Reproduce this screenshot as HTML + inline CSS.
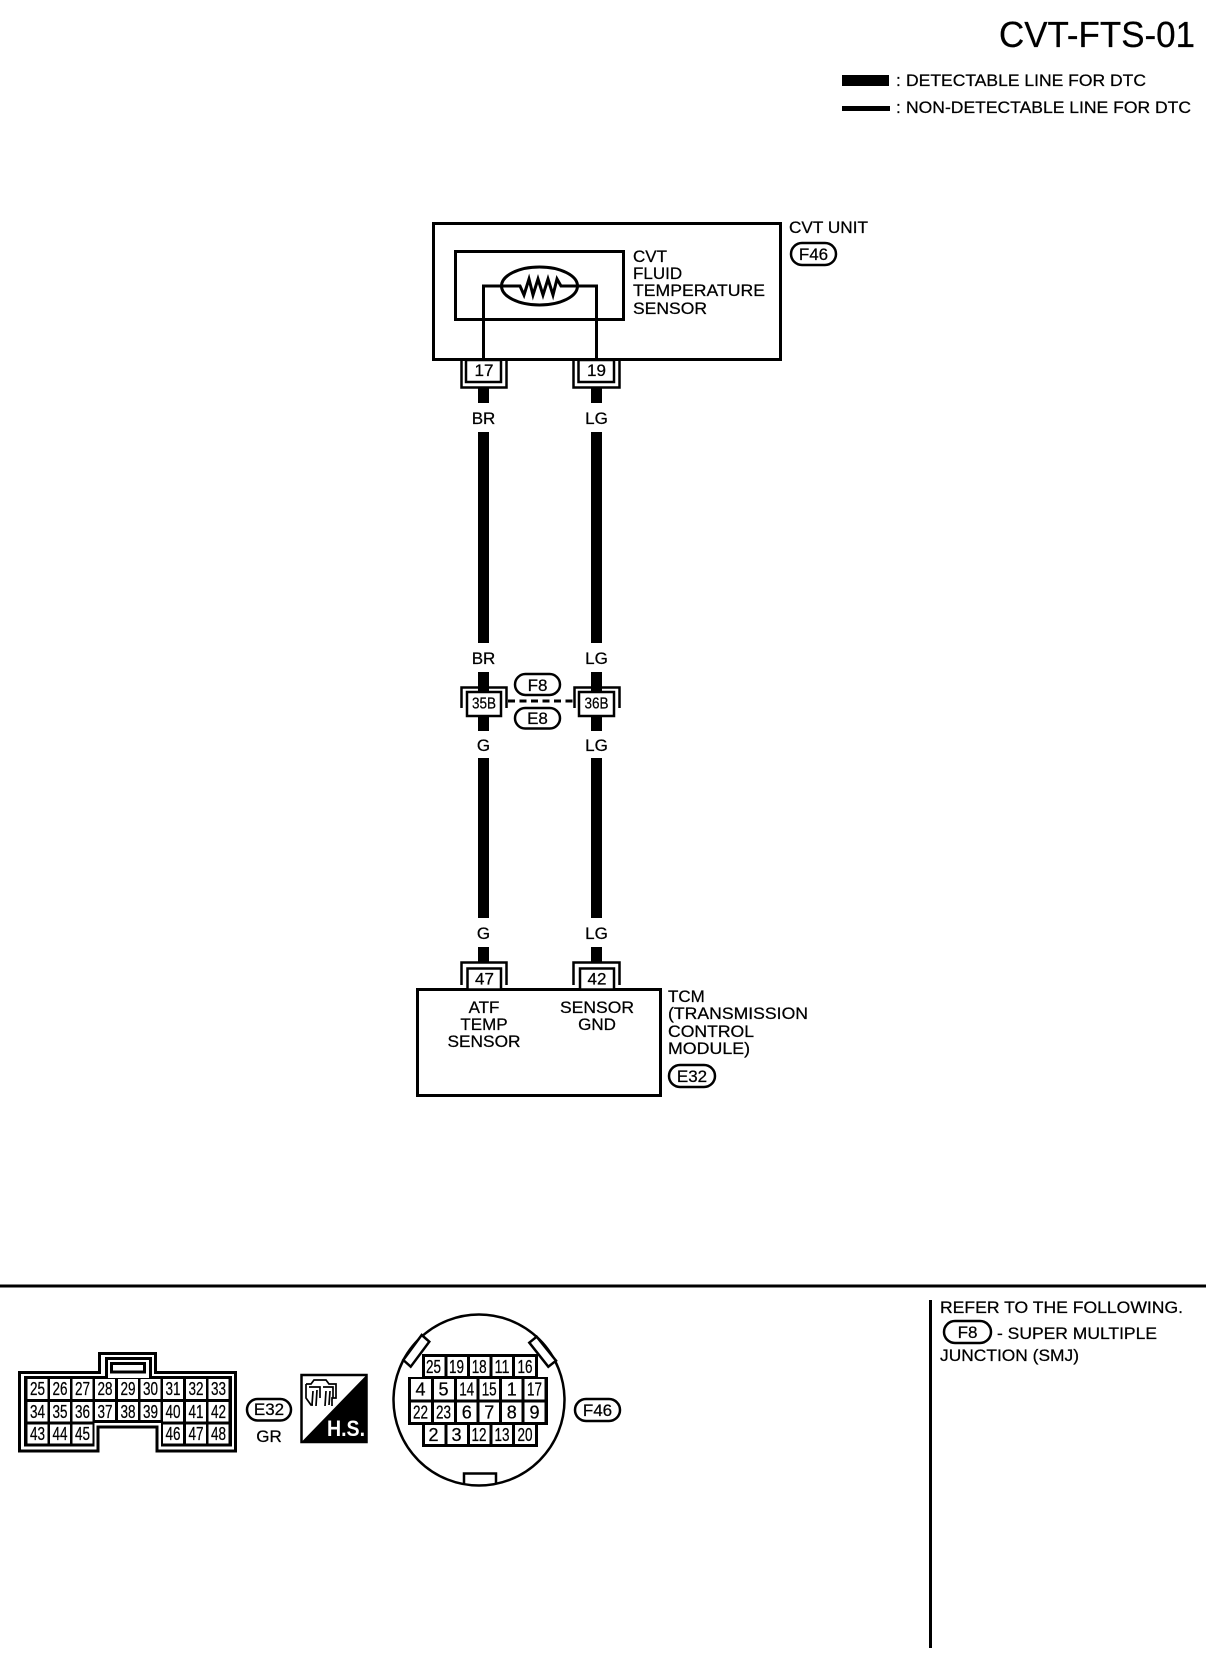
<!DOCTYPE html>
<html><head><meta charset="utf-8"><style>
html,body{margin:0;padding:0;background:#fff;width:1216px;height:1660px;overflow:hidden}
svg{display:block}
text{font-family:"Liberation Sans",sans-serif;fill:#000;font-size:17px;stroke:#000;stroke-width:.25}
.m{text-anchor:middle}
.c{font-size:18px;text-anchor:middle}
.l{fill:none;stroke:#000;stroke-width:3}
.t{fill:none;stroke:#000;stroke-width:2.5}
.o{fill:#fff;stroke:#000;stroke-width:2.5}
</style></head><body>
<svg width="1216" height="1660" viewBox="0 0 1216 1660" xmlns="http://www.w3.org/2000/svg">
<!-- header -->
<text x="999" y="47" style="font-size:36px" textLength="196" lengthAdjust="spacingAndGlyphs">CVT-FTS-01</text>
<rect x="842" y="75" width="47" height="11"/>
<rect x="842" y="106" width="48" height="5"/>
<text x="896" y="86">:</text>
<text x="906" y="86" textLength="240" lengthAdjust="spacingAndGlyphs">DETECTABLE LINE FOR DTC</text>
<text x="896" y="113">:</text>
<text x="906" y="113" textLength="285" lengthAdjust="spacingAndGlyphs">NON-DETECTABLE LINE FOR DTC</text>

<!-- CVT unit -->
<rect class="l" x="433.5" y="223.5" width="347" height="136"/>
<rect class="l" x="455.5" y="251.5" width="168" height="68"/>
<ellipse class="l" cx="539.5" cy="286" rx="38" ry="19" fill="none"/>
<path class="l" d="M483.5,360 V286 H520 L524,295 L529,279 L533,295 L538,279 L543,295 L548,279 L553,295 L557,279 L561,286 H596.5 V360"/>
<text x="633" y="262">CVT</text>
<text x="633" y="279">FLUID</text>
<text x="633" y="296" textLength="132" lengthAdjust="spacingAndGlyphs">TEMPERATURE</text>
<text x="633" y="314" textLength="74" lengthAdjust="spacingAndGlyphs">SENSOR</text>
<text x="789" y="233" textLength="79" lengthAdjust="spacingAndGlyphs">CVT UNIT</text>
<rect class="o" x="791" y="243" width="45" height="22" rx="11"/>
<text class="m" x="813.5" y="260">F46</text>

<!-- top connectors -->
<path class="t" d="M461.5,360 V387.5 H506.5 V360 M573.5,360 V387.5 H619.5 V360"/>
<rect class="t" x="466" y="360" width="35" height="22"/>
<rect class="t" x="578.5" y="360" width="35.5" height="22"/>
<text class="m" x="484" y="376">17</text>
<text class="m" x="596.5" y="376">19</text>
<rect x="478" y="388" width="11" height="15"/>
<rect x="591" y="388" width="11" height="15"/>
<text class="m" x="483.5" y="424">BR</text>
<text class="m" x="596.5" y="424">LG</text>
<rect x="478" y="432" width="11" height="211"/>
<rect x="591" y="432" width="11" height="211"/>
<text class="m" x="483.5" y="664">BR</text>
<text class="m" x="596.5" y="664">LG</text>

<!-- mid connectors -->
<rect x="478" y="672" width="11" height="59"/>
<rect x="591" y="672" width="11" height="59"/>
<path class="t" d="M461.5,708 V687.5 H506.5 V708 M574.5,708 V687.5 H619.5 V708"/>
<rect class="o" x="467" y="692" width="34" height="24"/>
<rect class="o" x="579" y="692" width="35" height="24"/>
<text class="m" x="484" y="708.5" style="font-size:16px" textLength="24" lengthAdjust="spacingAndGlyphs">35B</text>
<text class="m" x="596.5" y="708.5" style="font-size:16px" textLength="24" lengthAdjust="spacingAndGlyphs">36B</text>
<path d="M508,701 H574" stroke="#000" stroke-width="3" stroke-dasharray="7 4.5" fill="none"/>
<rect class="o" x="515" y="674" width="45" height="21" rx="10.5"/>
<text class="m" x="537.5" y="691">F8</text>
<rect class="o" x="515" y="708" width="45" height="20.5" rx="10.2"/>
<text class="m" x="537.5" y="724">E8</text>
<text class="m" x="483.5" y="751">G</text>
<text class="m" x="596.5" y="751">LG</text>
<rect x="478" y="758" width="11" height="160"/>
<rect x="591" y="758" width="11" height="160"/>
<text class="m" x="483.5" y="939">G</text>
<text class="m" x="596.5" y="939">LG</text>
<rect x="478" y="947" width="11" height="15"/>
<rect x="591" y="947" width="11" height="15"/>

<!-- TCM -->
<rect class="l" x="417.5" y="989.5" width="243" height="106"/>
<path class="t" d="M461.5,985 V962.5 H506.5 V985 M573.5,985 V962.5 H619.5 V985"/>
<rect class="o" x="467.5" y="968.5" width="33.5" height="21"/>
<rect class="o" x="580" y="968.5" width="34" height="21"/>
<text class="m" x="484.5" y="984.5">47</text>
<text class="m" x="597" y="984.5">42</text>
<text class="m" x="484" y="1013">ATF</text>
<text class="m" x="484" y="1030">TEMP</text>
<text class="m" x="484" y="1047" textLength="73" lengthAdjust="spacingAndGlyphs">SENSOR</text>
<text class="m" x="597" y="1013" textLength="74" lengthAdjust="spacingAndGlyphs">SENSOR</text>
<text class="m" x="597" y="1030">GND</text>
<text x="668" y="1002">TCM</text>
<text x="668" y="1019" textLength="140" lengthAdjust="spacingAndGlyphs">(TRANSMISSION</text>
<text x="668" y="1037" textLength="86" lengthAdjust="spacingAndGlyphs">CONTROL</text>
<text x="668" y="1054" textLength="82" lengthAdjust="spacingAndGlyphs">MODULE)</text>
<rect class="o" x="669" y="1065" width="46" height="22" rx="11"/>
<text class="m" x="692" y="1082">E32</text>

<!-- dividers -->
<rect x="0" y="1284.5" width="1206" height="3"/>
<rect x="929" y="1300" width="3" height="348"/>
<text x="940" y="1313" textLength="243" lengthAdjust="spacingAndGlyphs">REFER TO THE FOLLOWING.</text>
<rect class="o" x="944" y="1321" width="47" height="22" rx="11"/>
<text class="m" x="967.5" y="1338">F8</text>
<text x="997" y="1339" textLength="160" lengthAdjust="spacingAndGlyphs">- SUPER MULTIPLE</text>
<text x="940" y="1361" textLength="139" lengthAdjust="spacingAndGlyphs">JUNCTION (SMJ)</text>

<!-- E32 connector -->
<path class="l" d="M19.5,1372.5 H99.5 V1353.5 H155.5 V1372.5 H235.5 V1451 H157 V1427 H98 V1451 H19.5 Z"/>
<path class="l" d="M25.5,1377.5 H106.5 V1358.5 H150.5 V1377.5 H230.5 V1445 H162.5 V1421.5 H93 V1445 H25.5 Z"/>
<rect class="l" x="111.5" y="1363.5" width="33" height="8.5"/>
<path fill="#000" d="M26,1378 H230 V1445 H162 V1422 H94 V1445 H26 Z"/>
<g fill="#fff">
<rect x="27.5" y="1379" width="20" height="20"/><rect x="50" y="1379" width="20" height="20"/><rect x="72.5" y="1379" width="20" height="20"/><rect x="95" y="1379" width="20" height="20"/><rect x="118" y="1379" width="20" height="20"/><rect x="140.5" y="1379" width="20" height="20"/><rect x="163" y="1379" width="20" height="20"/><rect x="186" y="1379" width="20" height="20"/><rect x="208.5" y="1379" width="20" height="20"/>
<rect x="27.5" y="1402" width="20" height="19.5"/><rect x="50" y="1402" width="20" height="19.5"/><rect x="72.5" y="1402" width="20" height="19.5"/><rect x="95" y="1402" width="20" height="18"/><rect x="118" y="1402" width="20" height="18"/><rect x="140.5" y="1402" width="20" height="18"/><rect x="163" y="1402" width="20" height="19.5"/><rect x="186" y="1402" width="20" height="19.5"/><rect x="208.5" y="1402" width="20" height="19.5"/>
<rect x="27.5" y="1424.5" width="20" height="19"/><rect x="50" y="1424.5" width="20" height="19"/><rect x="72.5" y="1424.5" width="20" height="19"/><rect x="163" y="1424.5" width="20" height="19"/><rect x="186" y="1424.5" width="20" height="19"/><rect x="208.5" y="1424.5" width="20" height="19"/>
</g>
<g>
<text class="c" x="37.5" y="1395" textLength="15" lengthAdjust="spacingAndGlyphs">25</text><text class="c" x="60" y="1395" textLength="15" lengthAdjust="spacingAndGlyphs">26</text><text class="c" x="82.5" y="1395" textLength="15" lengthAdjust="spacingAndGlyphs">27</text><text class="c" x="105" y="1395" textLength="15" lengthAdjust="spacingAndGlyphs">28</text><text class="c" x="128" y="1395" textLength="15" lengthAdjust="spacingAndGlyphs">29</text><text class="c" x="150.5" y="1395" textLength="15" lengthAdjust="spacingAndGlyphs">30</text><text class="c" x="173" y="1395" textLength="15" lengthAdjust="spacingAndGlyphs">31</text><text class="c" x="196" y="1395" textLength="15" lengthAdjust="spacingAndGlyphs">32</text><text class="c" x="218.5" y="1395" textLength="15" lengthAdjust="spacingAndGlyphs">33</text>
<text class="c" x="37.5" y="1418" textLength="15" lengthAdjust="spacingAndGlyphs">34</text><text class="c" x="60" y="1418" textLength="15" lengthAdjust="spacingAndGlyphs">35</text><text class="c" x="82.5" y="1418" textLength="15" lengthAdjust="spacingAndGlyphs">36</text><text class="c" x="105" y="1418" textLength="15" lengthAdjust="spacingAndGlyphs">37</text><text class="c" x="128" y="1418" textLength="15" lengthAdjust="spacingAndGlyphs">38</text><text class="c" x="150.5" y="1418" textLength="15" lengthAdjust="spacingAndGlyphs">39</text><text class="c" x="173" y="1418" textLength="15" lengthAdjust="spacingAndGlyphs">40</text><text class="c" x="196" y="1418" textLength="15" lengthAdjust="spacingAndGlyphs">41</text><text class="c" x="218.5" y="1418" textLength="15" lengthAdjust="spacingAndGlyphs">42</text>
<text class="c" x="37.5" y="1440" textLength="15" lengthAdjust="spacingAndGlyphs">43</text><text class="c" x="60" y="1440" textLength="15" lengthAdjust="spacingAndGlyphs">44</text><text class="c" x="82.5" y="1440" textLength="15" lengthAdjust="spacingAndGlyphs">45</text><text class="c" x="173" y="1440" textLength="15" lengthAdjust="spacingAndGlyphs">46</text><text class="c" x="196" y="1440" textLength="15" lengthAdjust="spacingAndGlyphs">47</text><text class="c" x="218.5" y="1440" textLength="15" lengthAdjust="spacingAndGlyphs">48</text>
</g>
<rect class="o" x="247" y="1399" width="44" height="21.5" rx="10.7"/>
<text class="m" x="269" y="1415">E32</text>
<text class="m" x="269" y="1442">GR</text>

<!-- H.S. -->
<rect x="301.5" y="1375" width="65" height="67" fill="#fff" stroke="#000" stroke-width="2.5"/>
<path d="M366.5,1375 V1442 H301.5 Z"/>
<path d="M306,1384 H311 L314,1380 H326 L329,1384 H336 V1398 H332 V1406 M306,1384 V1398 L311,1405 H313 M309,1387 H320 V1398 M323,1387 H333 V1398 M313,1391 L312,1405 M317,1390 L316,1406 M326,1391 L325,1406 M330,1391 L329,1405" fill="none" stroke="#000" stroke-width="1.7"/>
<text x="327" y="1436" style="font-size:22px;font-weight:bold;fill:#fff;stroke:none" textLength="38" lengthAdjust="spacingAndGlyphs">H.S.</text>

<!-- F46 connector -->
<circle class="t" cx="479" cy="1400" r="85.5" fill="#fff"/>
<polygon points="421.7,1335 429.3,1341.7 410.7,1366.7 403.3,1360" fill="#fff" stroke="#000" stroke-width="2.5"/>
<polygon points="536.7,1336.7 529.3,1342.7 548.3,1366.7 556,1360.7" fill="#fff" stroke="#000" stroke-width="2.5"/>
<path d="M464,1485 V1473.5 H496 V1484" fill="none" stroke="#000" stroke-width="2.5"/>
<path fill="#000" d="M422,1354 H538 V1377 H548 V1425 H538 V1447 H422 V1425 H408 V1377 H422 Z"/>
<g fill="#fff">
<rect x="425" y="1357" width="19.5" height="19"/><rect x="447.5" y="1357" width="19.5" height="19"/><rect x="470" y="1357" width="19.5" height="19"/><rect x="492.5" y="1357" width="19.5" height="19"/><rect x="515" y="1357" width="20" height="19"/>
<rect x="411" y="1379" width="20" height="20.5"/><rect x="434" y="1379" width="20" height="20.5"/><rect x="457" y="1379" width="19.5" height="20.5"/><rect x="479.5" y="1379" width="19.5" height="20.5"/><rect x="502" y="1379" width="19.5" height="20.5"/><rect x="524.5" y="1379" width="20" height="20.5"/>
<rect x="411" y="1402.5" width="20" height="19.5"/><rect x="434" y="1402.5" width="20" height="19.5"/><rect x="457" y="1402.5" width="19.5" height="19.5"/><rect x="479.5" y="1402.5" width="19.5" height="19.5"/><rect x="502" y="1402.5" width="19.5" height="19.5"/><rect x="524.5" y="1402.5" width="20" height="19.5"/>
<rect x="425" y="1425" width="19.5" height="19"/><rect x="447.5" y="1425" width="19.5" height="19"/><rect x="470" y="1425" width="19.5" height="19"/><rect x="492.5" y="1425" width="19.5" height="19"/><rect x="515" y="1425" width="20" height="19"/>
</g>
<text class="c" x="433.5" y="1373" textLength="15" lengthAdjust="spacingAndGlyphs">25</text><text class="c" x="456.5" y="1373" textLength="15" lengthAdjust="spacingAndGlyphs">19</text><text class="c" x="479.2" y="1373" textLength="15" lengthAdjust="spacingAndGlyphs">18</text><text class="c" x="502" y="1373" textLength="15" lengthAdjust="spacingAndGlyphs">11</text><text class="c" x="525" y="1373" textLength="15" lengthAdjust="spacingAndGlyphs">16</text>
<text class="c" x="420.5" y="1395.5">4</text><text class="c" x="443.5" y="1395.5">5</text><text class="c" x="466.7" y="1395.5" textLength="15" lengthAdjust="spacingAndGlyphs">14</text><text class="c" x="489.2" y="1395.5" textLength="15" lengthAdjust="spacingAndGlyphs">15</text><text class="c" x="511.7" y="1395.5">1</text><text class="c" x="534.5" y="1395.5" textLength="15" lengthAdjust="spacingAndGlyphs">17</text>
<text class="c" x="420.5" y="1418.5" textLength="15" lengthAdjust="spacingAndGlyphs">22</text><text class="c" x="443.5" y="1418.5" textLength="15" lengthAdjust="spacingAndGlyphs">23</text><text class="c" x="466.7" y="1418.5">6</text><text class="c" x="489.2" y="1418.5">7</text><text class="c" x="511.7" y="1418.5">8</text><text class="c" x="534.5" y="1418.5">9</text>
<text class="c" x="433.5" y="1441">2</text><text class="c" x="456.5" y="1441">3</text><text class="c" x="479" y="1441" textLength="15" lengthAdjust="spacingAndGlyphs">12</text><text class="c" x="502" y="1441" textLength="15" lengthAdjust="spacingAndGlyphs">13</text><text class="c" x="525" y="1441" textLength="15" lengthAdjust="spacingAndGlyphs">20</text>
<rect class="o" x="575" y="1399" width="45" height="22" rx="11"/>
<text class="m" x="597.5" y="1416">F46</text>
</svg>
</body></html>
